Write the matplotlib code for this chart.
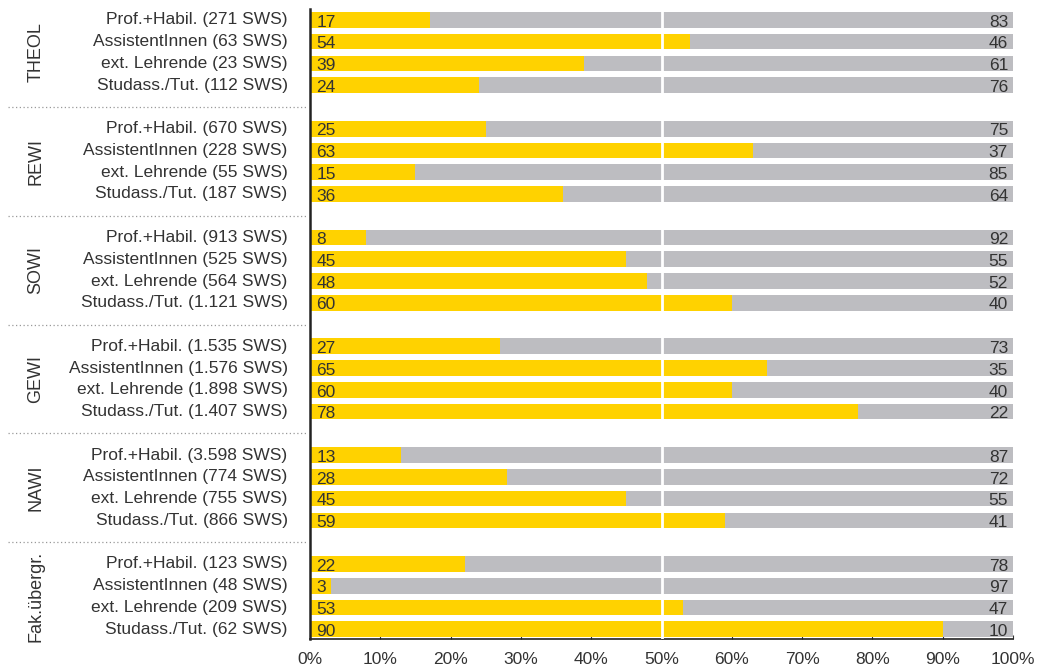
import matplotlib.pyplot as plt
import numpy as np

groups = ['THEOL', 'REWI', 'SOWI', 'GEWI', 'NAWI', 'Fak.übergr.']
roles = ['Prof.+Habil.', 'AssistentInnen', 'ext. Lehrende', 'Studass./Tut.']
sws = [
    ['271', '63', '23', '112'],
    ['670', '228', '55', '187'],
    ['913', '525', '564', '1.121'],
    ['1.535', '1.576', '1.898', '1.407'],
    ['3.598', '774', '755', '866'],
    ['123', '48', '209', '62'],
]
yellow_vals = [
    [17, 54, 39, 24],
    [25, 63, 15, 36],
    [8, 45, 48, 60],
    [27, 65, 60, 78],
    [13, 28, 45, 59],
    [22, 3, 53, 90],
]
gray_vals = [
    [83, 46, 61, 76],
    [75, 37, 85, 64],
    [92, 55, 52, 40],
    [73, 35, 40, 22],
    [87, 72, 55, 41],
    [78, 97, 47, 10],
]

YELLOW = '#FFD200'
GRAY = '#BDBDC1'
TEXT = '#333333'

plt.rcParams['font.family'] = ['Liberation Sans', 'DejaVu Sans']

fig = plt.figure(figsize=(10.37, 6.72), dpi=100)
ax = fig.add_axes([310 / 1037, 33 / 672, 703 / 1037, 630 / 672])

for g in range(len(groups)):
    for i in range(len(roles)):
        y = g * 5 + i
        yv = yellow_vals[g][i]
        gv = gray_vals[g][i]
        ax.barh(y, yv, height=0.72, color=YELLOW, zorder=2)
        ax.barh(y, gv, left=yv, height=0.72, color=GRAY, zorder=2)
        ax.text(0.9, y + 0.1, str(yv), va='center', ha='left', fontsize=12.5, color=TEXT, zorder=4)
        ax.text(99.3, y + 0.1, str(gv), va='center', ha='right', fontsize=12.5, color=TEXT, zorder=4)
        ax.text(-3.2, y, '%s (%s SWS)' % (roles[i], sws[g][i]), va='center', ha='right',
                fontsize=12.5, color=TEXT)
    # group label
    ax.text(-39.0, g * 5 + 1.5, groups[g], rotation=90, va='center', ha='center',
            fontsize=13, color=TEXT)
    # dotted separator in label area
    if g < len(groups) - 1:
        ax.plot([-43, -0.3], [g * 5 + 4, g * 5 + 4], linestyle=(0, (1, 2)), color='#999999',
                linewidth=0.9, clip_on=False)

ax.axvline(50, color='white', linewidth=2, zorder=3)

ax.set_xlim(0, 100)
ax.set_ylim(28.45, -0.5)
ax.set_yticks([])
ax.set_xticks(np.arange(0, 101, 10))
ax.set_xticklabels(['%d%%' % v for v in range(0, 101, 10)], fontsize=12.5, color=TEXT)
ax.tick_params(axis='x', direction='in', length=3, width=0.8, pad=9, color=TEXT)

for s in ['top', 'right']:
    ax.spines[s].set_visible(False)
ax.spines['left'].set_linewidth(1.8)
ax.spines['left'].set_color('#222222')
ax.spines['bottom'].set_linewidth(1.2)
ax.spines['bottom'].set_color('#222222')

fig.savefig('out.png', dpi=100)
